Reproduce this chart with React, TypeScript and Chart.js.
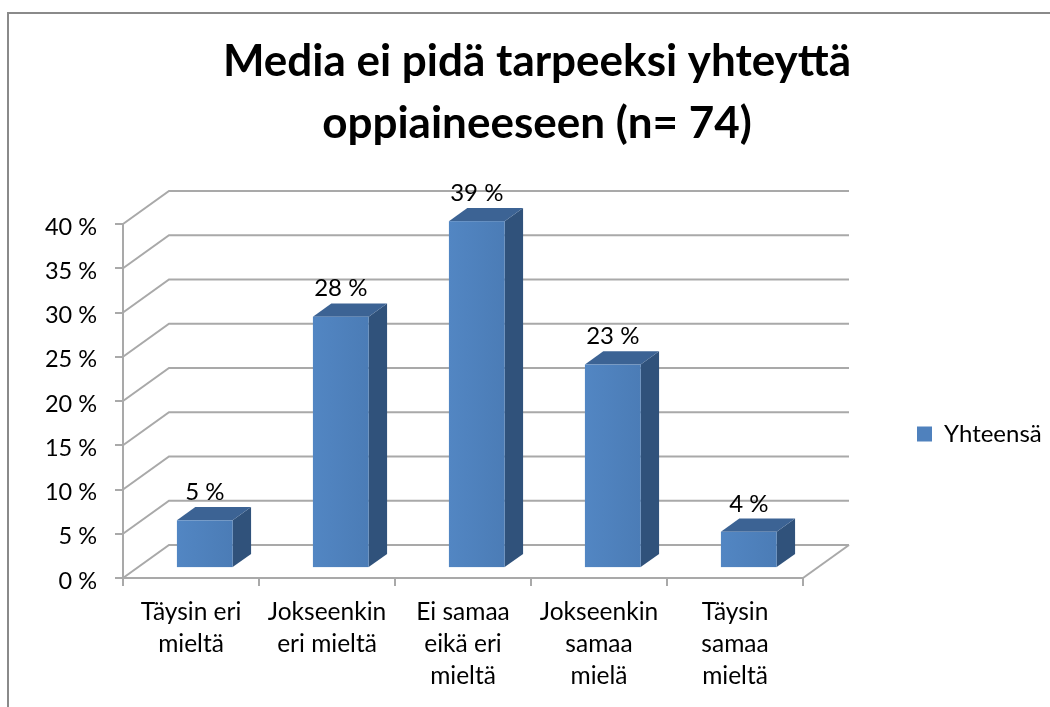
import React, { useEffect, useRef } from "react";
import { Chart, registerables } from "chart.js";

Chart.register(...registerables);

// ---- data ----
const categories: string[][] = [
  ["Täysin eri", "mieltä"],
  ["Jokseenkin", "eri mieltä"],
  ["Ei samaa", "eikä eri", "mieltä"],
  ["Jokseenkin", "samaa", "mielä"],
  ["Täysin", "samaa", "mieltä"],
];
const seriesName = "Yhteensä";
const values: number[] = [5.4, 28.4, 39.2, 23.0, 4.1];
const yMin = 0;
const yMax = 40;
const yStep = 5;
const titleLines: string[] = ["Media ei pidä tarpeeksi yhteyttä", "oppiaineeseen (n= 74)"];

// ---- style ----
const FONT = "Lato";
const GRID = "#a9a9a9";
const FRONT = "#4f81bd";
const TOP = "#3c6394";
const SIDE = "#30527b";
const DX = 46;
const DY = -33;
const BAR_POS = 0.3;
const BAR_DEPTH = 0.4;
const LEGEND_SIZE = 24;

const W = 1050;
const H = 707;

const threeD = {
  id: "threeD",
  beforeDraw(chart: any) {
    const { ctx, width, height } = chart;
    ctx.save();
    ctx.fillStyle = "#ffffff";
    ctx.fillRect(0, 0, width, height);
    ctx.strokeStyle = "#8a8a8a";
    ctx.lineWidth = 2;
    ctx.beginPath();
    ctx.moveTo(8, height);
    ctx.lineTo(8, 13);
    ctx.lineTo(width, 13);
    ctx.stroke();
    ctx.restore();
  },
  beforeDatasetsDraw(chart: any) {
    const { ctx, chartArea } = chart;
    const ys = chart.scales.y;
    const { left, right, bottom } = chartArea;
    ctx.save();
    ctx.strokeStyle = GRID;
    ctx.lineWidth = 2;
    ys.ticks.forEach((t: any) => {
      const py = ys.getPixelForValue(t.value);
      ctx.beginPath();
      ctx.moveTo(left, py);
      ctx.lineTo(left + DX, py + DY);
      ctx.lineTo(right + DX, py + DY);
      ctx.stroke();
    });
    ctx.beginPath();
    ctx.moveTo(right, bottom);
    ctx.lineTo(right + DX, bottom + DY);
    ctx.stroke();
    ctx.restore();
  },
  beforeDatasetDraw() {
    return false;
  },
  afterDatasetsDraw(chart: any) {
    const { ctx } = chart;
    const meta = chart.getDatasetMeta(0);
    const ds = chart.data.datasets[0];
    ctx.save();
    meta.data.forEach((el: any, i: number) => {
      const { x, y, base, width } = el.getProps(["x", "y", "base", "width"], true);
      const ox = DX * BAR_POS;
      const oy = DY * BAR_POS;
      const x1 = x - width / 2 + ox;
      const x2 = x + width / 2 + ox;
      const yt = y + oy;
      const yb = base + oy;
      const dx = DX * BAR_DEPTH;
      const dy = DY * BAR_DEPTH;
      // side
      ctx.fillStyle = SIDE;
      ctx.beginPath();
      ctx.moveTo(x2, yt);
      ctx.lineTo(x2 + dx, yt + dy);
      ctx.lineTo(x2 + dx, yb + dy);
      ctx.lineTo(x2, yb);
      ctx.closePath();
      ctx.fill();
      // top
      ctx.fillStyle = TOP;
      ctx.beginPath();
      ctx.moveTo(x1, yt);
      ctx.lineTo(x2, yt);
      ctx.lineTo(x2 + dx, yt + dy);
      ctx.lineTo(x1 + dx, yt + dy);
      ctx.closePath();
      ctx.fill();
      // front
      const g = ctx.createLinearGradient(x1, 0, x2, 0);
      g.addColorStop(0, "#5286c3");
      g.addColorStop(1, "#4b7cb6");
      ctx.fillStyle = g;
      ctx.fillRect(x1, yt, x2 - x1, yb - yt);
      // label
      ctx.fillStyle = "#000";
      ctx.font = `24px ${FONT}`;
      ctx.textAlign = "center";
      ctx.textBaseline = "middle";
      ctx.fillText(Math.round(ds.data[i]) + " %", (x1 + x2) / 2, yt - 28);
    });
    ctx.restore();
  },
};

export default function App() {
  const ref = useRef<HTMLCanvasElement | null>(null);

  useEffect(() => {
    document.body.style.margin = "0";
    const canvas = ref.current;
    if (!canvas) return;

    const m = document.createElement("canvas").getContext("2d")!;
    m.font = `${LEGEND_SIZE}px ${FONT}`;
    const tw = m.measureText(seriesName).width;
    const BOXW = 15;
    const itemW = BOXW + LEGEND_SIZE / 2 + tw;
    const padR = W - 10 - itemW - 917;
    const legendPad = W - padR - 803 - itemW - 10;
    const padL = padR + 24;
    const yW = 123 - padL;

    const chart = new Chart(canvas, {
      type: "bar",
      data: {
        labels: categories,
        datasets: [
          {
            label: seriesName,
            data: values,
            backgroundColor: FRONT,
            borderWidth: 0,
            categoryPercentage: 1,
            barPercentage: 0.41,
          },
        ],
      },
      options: {
        responsive: false,
        animation: false,
        devicePixelRatio: 1,
        layout: { padding: { left: padL, right: padR, top: 0, bottom: 0 } },
        plugins: {
          title: {
            display: true,
            text: titleLines,
            color: "#000",
            font: { family: FONT, size: 44, weight: "bold", lineHeight: "62px" },
            padding: { top: 31, bottom: 69 },
          },
          legend: {
            display: true,
            position: "right",
            title: {
              display: true,
              text: "",
              padding: { top: 160, bottom: 0 },
              font: { size: 10, lineHeight: "1px" },
            },
            labels: {
              boxWidth: BOXW,
              boxHeight: BOXW,
              padding: legendPad,
              color: "#000",
              font: { family: FONT, size: LEGEND_SIZE },
            },
          },
          tooltip: { enabled: false },
        },
        scales: {
          x: {
            grid: {
              drawOnChartArea: false,
              drawTicks: true,
              tickLength: 8,
              color: GRID,
              lineWidth: 2,
              offset: true,
            },
            border: { display: true, color: GRID, width: 2 },
            ticks: {
              color: "#000",
              font: { family: FONT, size: 24.5, lineHeight: "32px" },
              padding: 10,
              maxRotation: 0,
              autoSkip: false,
            },
            afterFit: (s: any) => {
              s.height = 129;
            },
          },
          y: {
            min: yMin,
            max: yMax,
            grid: {
              drawOnChartArea: false,
              drawTicks: true,
              tickLength: 8,
              color: GRID,
              lineWidth: 2,
            },
            border: { display: true, color: GRID, width: 2 },
            ticks: {
              stepSize: yStep,
              color: "#000",
              font: { family: FONT, size: 23.5 },
              padding: 18,
              labelOffset: 3,
              callback: (v: any) => v + " %",
            },
            afterFit: (s: any) => {
              s.width = yW;
            },
          },
        },
      },
      plugins: [threeD],
    });

    return () => chart.destroy();
  }, []);

  return (
    <div style={{ width: W, height: H }}>
      <canvas ref={ref} width={W} height={H} style={{ display: "block" }} />
    </div>
  );
}
